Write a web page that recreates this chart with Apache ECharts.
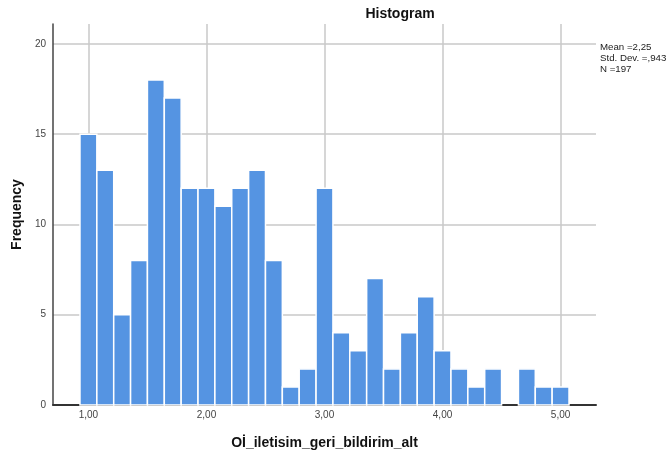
<!DOCTYPE html>
<html><head><meta charset="utf-8">
<script src="https://cdn.jsdelivr.net/npm/echarts@6/dist/echarts.min.js"></script>
<style>html,body{margin:0;padding:0;background:#fff}#c{width:670px;height:455px}</style>
</head><body><div id="c"></div>
<script>
// Bin centers (bin width = 1/7)
const binCenters = [1.00, 1.1429, 1.2857, 1.4286, 1.5714, 1.7143, 1.8571, 2.00, 2.1429, 2.2857,
  2.4286, 2.5714, 2.7143, 2.8571, 3.00, 3.1429, 3.2857, 3.4286, 3.5714, 3.7143,
  3.8571, 4.00, 4.1429, 4.2857, 4.4286, 4.5714, 4.7143, 4.8571, 5.00];
const frequencies = [15, 13, 5, 8, 18, 17, 12, 12, 11, 12,
  13, 8, 1, 2, 12, 4, 3, 7, 2, 4,
  6, 3, 2, 1, 2, 0, 2, 1, 1];
const binWidth = 0.142857;
const statsLines = ['Mean =2,25', 'Std. Dev. =,943', 'N =197'];
const titleText = 'Histogram';
const xName = 'Oİ_iletisim_geri_bildirim_alt';
const yName = 'Frequency';

const FONT = '"Liberation Sans", Arial, sans-serif';
const data = binCenters.map((c, i) => [c, frequencies[i]]);

const chart = echarts.init(document.getElementById('c'), null, {renderer: 'canvas'});
chart.setOption({
  animation: false,
  backgroundColor: '#ffffff',
  title: {
    text: titleText, left: 395, top: 2, textAlign: 'center',
    textStyle: {fontFamily: FONT, fontSize: 14, fontWeight: 'bold', color: '#111'}
  },
  graphic: statsLines.map((t, i) => ({
    type: 'text', left: 600, top: 42 + i * 11,
    style: {text: t, font: '9.7px ' + FONT, fill: '#222'}
  })),
  grid: {left: 53, right: 74, top: 24, bottom: 50, containLabel: false, outerBoundsMode: 'none'},
  xAxis: {
    type: 'value', min: 0.7, max: 5.3, splitNumber: 5,
    name: xName, nameLocation: 'middle', nameGap: 31,
    nameTextStyle: {fontFamily: FONT, fontSize: 14, fontWeight: 'bold', color: '#111'},
    axisLine: {show: true, onZero: false, lineStyle: {color: '#333', width: 2}},
    axisTick: {show: false},
    axisLabel: {
      fontFamily: FONT, fontSize: 10, color: '#444', margin: 5,
      showMinLabel: false, showMaxLabel: false,
      formatter: v => v.toFixed(2).replace('.', ',')
    },
    splitLine: {show: true, showMinLine: false, showMaxLine: false, lineStyle: {color: '#c8c8c8', width: 1.5}}
  },
  yAxis: {
    type: 'value', min: 0, max: 21.1, interval: 5,
    name: yName, nameLocation: 'middle', nameGap: 28, nameRotate: 90,
    nameTextStyle: {fontFamily: FONT, fontSize: 14, fontWeight: 'bold', color: '#111'},
    axisLine: {show: true, lineStyle: {color: '#444', width: 1.5}},
    axisTick: {show: false},
    axisLabel: {fontFamily: FONT, fontSize: 10, color: '#444', margin: 7, showMaxLabel: false},
    splitLine: {show: true, showMinLine: false, showMaxLine: false, lineStyle: {color: '#c8c8c8', width: 1.5}}
  },
  series: [{
    type: 'custom',
    data: data,
    encode: {x: 0, y: 1},
    renderItem: function (params, api) {
      const c = api.value(0), v = api.value(1);
      if (!v) return null;
      const p0 = api.coord([c - binWidth / 2, v]);
      const p1 = api.coord([c + binWidth / 2, 0]);
      return {
        type: 'rect',
        shape: {x: p0[0], y: p0[1], width: p1[0] - p0[0], height: p1[1] - p0[1]},
        style: {fill: '#5594e2', stroke: '#ffffff', lineWidth: 1.5}
      };
    }
  }]
});
</script>
</body></html>
